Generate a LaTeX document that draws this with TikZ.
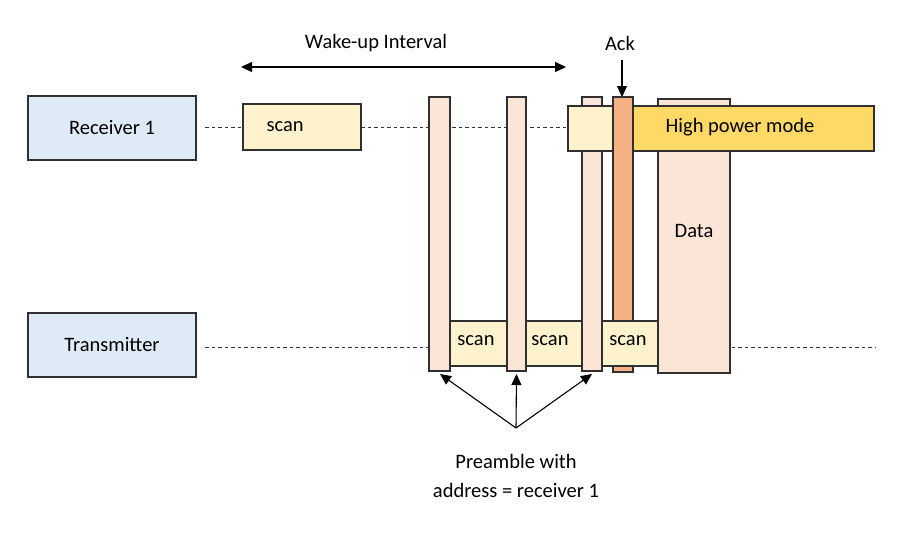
\documentclass[tikz,border=0pt]{standalone}
\usepackage{fontspec}
\setmainfont{Carlito}
\usetikzlibrary{arrows.meta}
\definecolor{lblue}{HTML}{DEEBF7}
\definecolor{lscan}{HTML}{FFF2CC}
\definecolor{lpeach}{HTML}{FBE5D6}
\definecolor{ackc}{HTML}{F4B183}
\definecolor{hpm}{HTML}{FFD966}
\definecolor{edge}{HTML}{303030}
\tikzset{
  box/.style={draw=edge, line width=1.1pt, inner sep=0pt, outer sep=0pt},
  lbl/.style={font=\fontsize{20.5}{25}\selectfont, text=black},
  dline/.style={dashed, dash pattern=on 3.5pt off 3pt, line width=1pt, draw=black!80},
  tip/.style={Triangle[length=11pt,width=10pt]},
  arr/.style={-{Triangle[length=11pt,width=10pt]}, line width=1.1pt}
}
\begin{document}
\begin{tikzpicture}[x=1pt,y=-1pt]
\useasboundingbox (0,0) rectangle (918,544);
% dashed lines
\coordinate (rxs) at (205,127);
\coordinate (rxe) at (568,127);
\coordinate (txs) at (205,347);
\coordinate (txe) at (875,347);
\draw[dline] (rxs) -- (rxe);
\draw[dline] (txs) -- (txe);
% labels boxes
\node[box, fill=lblue, minimum width=168pt, minimum height=64pt, lbl] (rx) at (112,128) {Receiver 1};
\node[box, fill=lblue, minimum width=168pt, minimum height=64pt, lbl] (tx) at (112,345) {Transmitter};
% rx scan
\draw[box, fill=lscan] (243,104) rectangle (361,150);
\node[lbl, anchor=west] (rxscan) at (263,127) {scan};
% data box
\draw[box, fill=lpeach] (658,99) rectangle (730,373);
\node[lbl] (data) at (694,231) {Data};
% preamble bars
\draw[box, fill=lpeach] (429,97) rectangle (450,371);
\draw[box, fill=lpeach] (507,97) rectangle (526,371);
\draw[box, fill=lpeach] (582,97) rectangle (602,371);
\coordinate (p1) at (440,374);
\coordinate (p2) at (516.5,374);
\coordinate (p3) at (592,374);
% high power mode
\draw[box, fill=hpm] (633,106) rectangle (874,151);
\node[lbl] (hpmt) at (740,127) {High power mode};
\draw[box, fill=lscan] (568,106) rectangle (613,151);
% ack
\draw[box, fill=ackc] (613,97) rectangle (633,372);
\coordinate (acktop) at (622,97);
\coordinate (ackst) at (622,60);
\node[lbl] (ack) at (620,43) {Ack};
\draw[arr] (ackst) -- (acktop);
% tx scans
\draw[box, fill=lscan] (450,321) rectangle (507,366);
\node[lbl] (ts1) at (476,341) {scan};
\draw[box, fill=lscan] (526,321) rectangle (582,366);
\node[lbl] (ts2) at (550,341) {scan};
\draw[box, fill=lscan] (602,321) rectangle (658,366);
\node[lbl] (ts3) at (628,341) {scan};
% wake-up interval
\node[lbl] (wu) at (376,43) {Wake-up Interval};
\coordinate (wl) at (241,67);
\coordinate (wr) at (566,67);
\draw[{Triangle[length=11pt,width=10pt]}-{Triangle[length=11pt,width=10pt]}, line width=1.1pt] (wl) -- (wr);
% preamble
\node[lbl] (pre1) at (516,461) {Preamble with};
\node[lbl] (pre2) at (516,490) {address = receiver 1};
\coordinate (pt) at (516,428);
\draw[arr] (pt) -- (p1);
\draw[arr] (pt) -- (p2);
\draw[arr] (pt) -- (p3);
\end{tikzpicture}
\end{document}
